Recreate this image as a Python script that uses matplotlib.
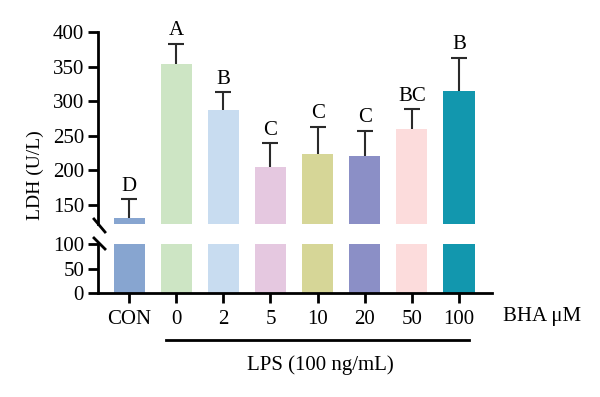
import matplotlib
matplotlib.use("Agg")
import matplotlib.pyplot as plt
from matplotlib.lines import Line2D

plt.rcParams["font.family"] = ["Liberation Serif", "DejaVu Serif"]

# data
groups = ["CON", "0", "2", "5", "10", "20", "50", "100"]
ldh_mean = [131, 353, 287, 205, 224, 221, 259, 315]
ldh_sd = [27, 30, 26, 34, 39, 36, 29, 48]
letters = ["D", "A", "B", "C", "C", "C", "BC", "B"]
colors = ["#87A5D0", "#CDE5C4", "#C8DCF0", "#E5C8E0",
          "#D6D697", "#8B8FC6", "#FCDCDC", "#1297AE"]

W, H = 600, 397
fig = plt.figure(figsize=(6.0, 3.97), dpi=100)

def frac(x0, y0, x1, y1):
    # pixel box (top-left origin) -> figure fraction
    return [x0 / W, 1 - y1 / H, (x1 - x0) / W, (y1 - y0) / H]

ax_top = fig.add_axes(frac(98, 32, 492, 224))
ax_bot = fig.add_axes(frac(98, 244, 492, 293))

x = list(range(len(groups)))
lw = 2.0
fs = 15

for ax in (ax_top, ax_bot):
    ax.bar(x, ldh_mean, width=0.66, color=colors, zorder=2)
    ax.set_xlim(-0.66, 7.7)
    for s in ("top", "right"):
        ax.spines[s].set_visible(False)
    ax.spines["left"].set_linewidth(lw)
    ax.tick_params(axis="y", direction="out", length=7, width=lw,
                   labelsize=fs, pad=3)

# error bars behind the bars so only the upper half shows
ax_top.errorbar(x, ldh_mean, yerr=ldh_sd, fmt="none",
                ecolor="#2a2a2a", elinewidth=1.5, capsize=5.5, capthick=1.5,
                zorder=1)
for xi, m, s, lab in zip(x, ldh_mean, ldh_sd, letters):
    ax_top.text(xi, m + s + 5, lab, ha="center", va="bottom", fontsize=fs)

ax_top.set_ylim(122, 400)
ax_top.set_yticks([150, 200, 250, 300, 350, 400])
ax_top.spines["bottom"].set_visible(False)
ax_top.set_xticks([])

ax_bot.set_ylim(0, 101)
ax_bot.set_yticks([0, 50, 100])
ax_bot.spines["bottom"].set_linewidth(lw)
ax_bot.set_xticks(x)
ax_bot.set_xticklabels(groups)
ax_bot.tick_params(axis="x", direction="out", length=7, width=lw,
                   labelsize=fs, pad=5)

# break marks on the y axis
for y0, y1 in ((219, 232), (238, 249)):
    fig.add_artist(Line2D([94 / W, 105 / W], [1 - y0 / H, 1 - y1 / H],
                          color="black", lw=lw))

fig.text(35 / W, 1 - 175 / H, "LDH (U/L)", rotation=90, ha="center",
         va="center", fontsize=14)
fig.text(542 / W, 1 - 316 / H, "BHA \u03bcM", ha="center", va="center",
         fontsize=fs)
fig.add_artist(Line2D([166 / W, 469 / W], [1 - 340 / H, 1 - 340 / H],
                      color="black", lw=lw))
fig.text(320 / W, 1 - 365 / H, "LPS (100 ng/mL)", ha="center", va="center",
         fontsize=fs)

fig.savefig("out.png", dpi=100)
